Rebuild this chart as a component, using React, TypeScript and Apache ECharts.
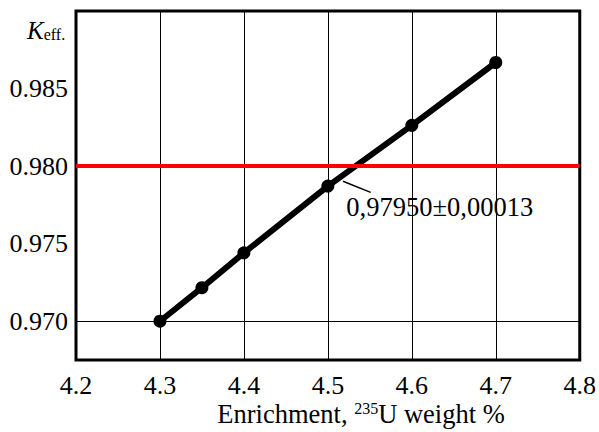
import React, { useEffect, useRef } from "react";
import * as echarts from "echarts";

const enrichment = [4.3, 4.35, 4.4, 4.5, 4.6, 4.7];
const keff = [0.97, 0.97216, 0.97441, 0.97871, 0.98263, 0.98668];
const yGridValues = [0.97, 0.975, 0.985];
const criticalLimit = 0.98;
const annotationText = "0,97950±0,00013";
const leaderFrom = [4.518, 0.97902];
const leaderTo = [4.551, 0.97831];
const annotationAt = [4.522, 0.97734];
const xAxisTitle = "{a|Enrichment, }{s|235}{a|U weight %}";
const yAxisTitle = "{k|K}{e|eff.}";

const FONT = "Liberation Serif";

export default function App() {
  const ref = useRef<HTMLDivElement>(null);
  useEffect(() => {
    if (!ref.current) return;
    const chart = echarts.init(ref.current, undefined, { renderer: "svg" });
    chart.setOption({
      animation: false,
      backgroundColor: "#fff",
      textStyle: { fontFamily: FONT },
      grid: {
        left: 76,
        right: 16,
        top: 11,
        bottom: 72,
        show: true,
        borderColor: "#000",
        borderWidth: 3,
        backgroundColor: "transparent",
        z: 5,
      },
      xAxis: {
        type: "value",
        min: 4.2,
        max: 4.8,
        interval: 0.1,
        axisLine: { show: false },
        axisTick: { show: false },
        axisLabel: {
          color: "#000",
          fontFamily: FONT,
          fontSize: 26,
          margin: 12,
          formatter: (v: number) => v.toFixed(1),
        },
        splitLine: { show: true, lineStyle: { color: "#000", width: 1 } },
      },
      yAxis: {
        type: "value",
        min: 0.9675,
        max: 0.99,
        interval: 0.0025,
        axisLine: { show: false },
        axisTick: { show: false },
        splitLine: { show: false },
        axisLabel: {
          color: "#000",
          fontFamily: FONT,
          fontSize: 26,
          margin: 8,
          formatter: (v: number) => {
            const n = Math.round(v * 10000);
            return n % 50 === 0 && n < 9900 ? v.toFixed(3) : "";
          },
        },
      },
      series: [
        {
          type: "line",
          data: [],
          z: 1,
          silent: true,
          markLine: {
            silent: true,
            symbol: "none",
            label: { show: false },
            data: [
              ...yGridValues.map((v) => ({
                yAxis: v,
                lineStyle: { color: "#000", width: 1, type: "solid" },
              })),
              {
                yAxis: criticalLimit,
                lineStyle: { color: "#ff0000", width: 4, type: "solid" },
              },
            ],
          },
        },
        {
          type: "line",
          z: 3,
          data: enrichment.map((x, i) => [x, keff[i]]),
          lineStyle: { color: "#000", width: 6 },
          itemStyle: { color: "#000" },
          symbol: "circle",
          symbolSize: 13,
          markLine: {
            silent: true,
            symbol: "none",
            label: { show: false },
            lineStyle: { color: "#000", width: 1.5, type: "solid" },
            data: [[{ coord: leaderFrom }, { coord: leaderTo }]],
          },
          markPoint: {
            symbol: "circle",
            symbolSize: 0,
            data: [{ coord: annotationAt }],
            label: {
              show: true,
              position: "inside",
              align: "left",
              verticalAlign: "middle",
              color: "#000",
              fontFamily: FONT,
              fontSize: 26.5,
              formatter: annotationText,
            },
          },
        },
      ],
      graphic: [
        {
          type: "text",
          x: 361,
          y: 414,
          style: {
            text: xAxisTitle,
            align: "center",
            verticalAlign: "middle",
            fill: "#000",
            rich: {
              a: { fontFamily: FONT, fontSize: 26.5, color: "#000", lineHeight: 27 },
              s: { fontFamily: FONT, fontSize: 16, color: "#000", verticalAlign: "top", lineHeight: 16 },
            },
          },
        },
        {
          type: "text",
          x: 27,
          y: 30,
          style: {
            text: yAxisTitle,
            align: "left",
            verticalAlign: "middle",
            fill: "#000",
            rich: {
              k: { fontFamily: FONT, fontSize: 25, fontStyle: "italic", color: "#000", lineHeight: 25 },
              e: { fontFamily: FONT, fontSize: 16, color: "#000", verticalAlign: "bottom", lineHeight: 16 },
            },
          },
        },
      ],
    });
    return () => chart.dispose();
  }, []);
  return (
    <div
      ref={ref}
      style={{ position: "fixed", left: 0, top: 0, width: 599, height: 432, background: "#fff" }}
    />
  );
}
